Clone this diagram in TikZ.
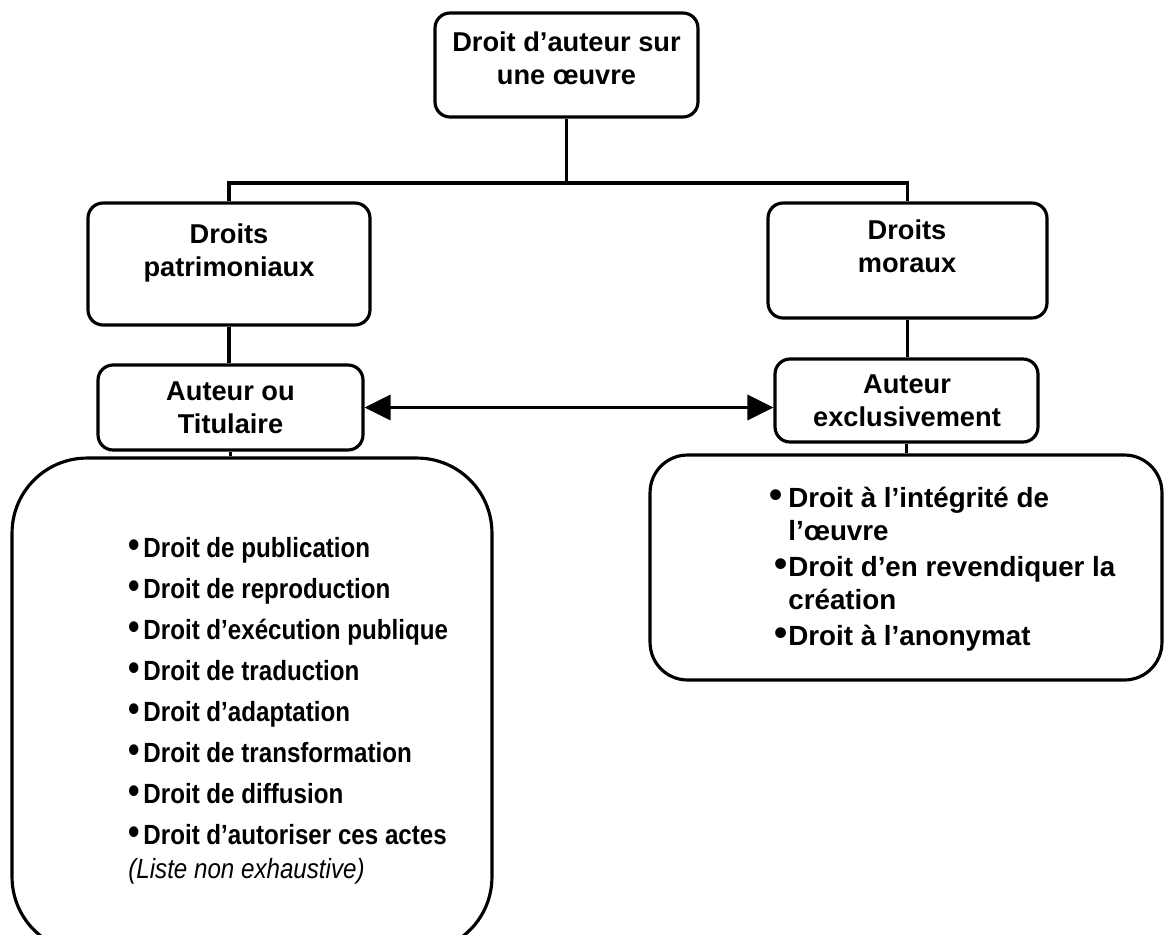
\documentclass[tikz,border=0pt]{standalone}
\usepackage{fontspec}
\setmainfont{Liberation Sans}
\newfontfamily\etroite{Liberation Sans}[FakeStretch=0.87]
\usetikzlibrary{arrows.meta}
\newcommand\puce{\scalebox{1.35}{\textbullet}}

\begin{document}
\begin{tikzpicture}[x=0.02cm,y=-0.02cm,
    boite/.style={draw,line width=1.8pt,rounded corners=0.3cm,inner sep=0pt},
    titre/.style={align=center,inner sep=0pt,font=\fontsize{15.5}{19}\selectfont\bfseries},
    liste/.style={align=left,inner sep=0pt,anchor=north west},
    trait/.style={line width=1.8pt}]
  \useasboundingbox (0,0) rectangle (1166,934);

  \node[boite,minimum width=5.26cm,minimum height=2.08cm] (droit) at (566.5,65) {};
  \node[boite,minimum width=5.64cm,minimum height=2.44cm] (patri) at (229,264) {};
  \node[boite,minimum width=5.58cm,minimum height=2.30cm] (moraux) at (907.5,260.5) {};
  \node[boite,minimum width=5.30cm,minimum height=1.70cm] (titul) at (230.5,407.5) {};
  \node[boite,minimum width=5.26cm,minimum height=1.66cm] (exclu) at (906.5,400.5) {};
  \node[boite,rounded corners=1.5cm,minimum width=9.60cm,minimum height=9.88cm] (listeP) at (252,705) {};
  \node[boite,rounded corners=0.75cm,minimum width=10.24cm,minimum height=4.50cm] (listeM) at (906,567.5) {};

  \node[titre] (droit-t) at (566.5,58.5) {Droit d’auteur sur\\une œuvre};
  \node[titre] (patri-t) at (229,253) {Droits\\patrimoniaux};
  \node[titre] (moraux-t) at (907,246.5) {Droits\\moraux};
  \node[titre] (titul-t) at (230.5,407.5) {Auteur ou\\Titulaire};
  \node[titre] (exclu-t) at (907,400.5) {Auteur\\exclusivement};

  \node[liste,font=\etroite\fontsize{15.8}{23.3}\selectfont\bfseries] (droitsP) at (128,537) {%
    \puce\hspace{2.1pt}Droit de publication\\
    \puce\hspace{2.1pt}Droit de reproduction\\
    \puce\hspace{2.1pt}Droit d’exécution publique\\
    \puce\hspace{2.1pt}Droit de traduction\\
    \puce\hspace{2.1pt}Droit d’adaptation\\
    \puce\hspace{2.1pt}Droit de transformation\\
    \puce\hspace{2.1pt}Droit de diffusion\\
    \puce\hspace{2.1pt}Droit d’autoriser ces actes\\[-3.8pt]
    {\mdseries\itshape (Liste non exhaustive)}};
  \node[liste,font=\fontsize{15.8}{18.8}\selectfont\bfseries] (droitsM) at (788,487) {%
    \llap{\puce\hspace{3.5pt}}Droit à l’intégrité de\\
    l’œuvre\\[1.7pt]
    \llap{\puce\hspace{0.5pt}}Droit d’en revendiquer la\\
    création\\[1.7pt]
    \llap{\puce\hspace{0.5pt}}Droit à l’anonymat};

  \coordinate (fourche) at (566.5,183);
  \draw[trait] (droit.south) -- (fourche);
  \draw[trait] (patri.north) |- (fourche) -| (moraux.north);
  \draw[trait] (patri.south) -- (titul.north -| patri.south);
  \draw[trait] (moraux.south) -- (exclu.north -| moraux.south);
  \draw[trait] (titul.south) -- (titul.south |- listeP.north);
  \draw[trait] (exclu.south) -- (exclu.south |- listeM.north);
  \draw[trait,{Triangle[length=0.52cm,width=0.5cm]}-{Triangle[length=0.52cm,width=0.5cm]}]
    (titul.east) -- (titul.east -| exclu.west);
\end{tikzpicture}
\end{document}
